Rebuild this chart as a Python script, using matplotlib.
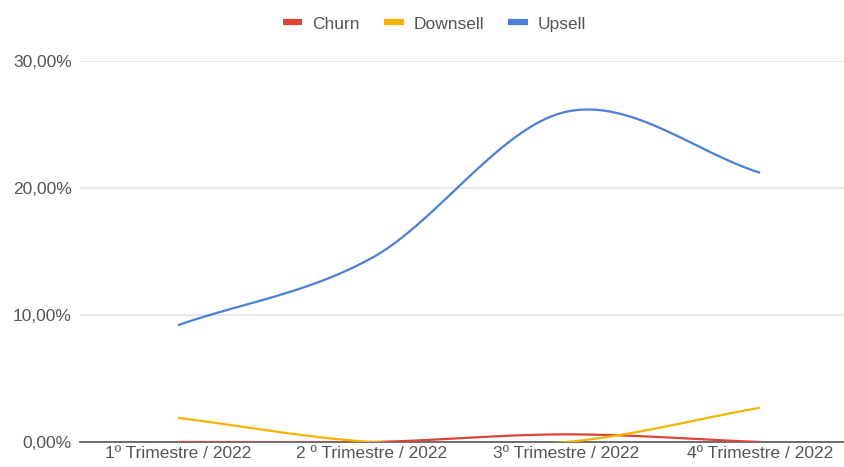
import matplotlib.pyplot as plt
import numpy as np
from matplotlib.ticker import FuncFormatter

plt.rcParams['font.family'] = ['Liberation Sans', 'DejaVu Sans']

quarters = ["1º Trimestre / 2022", "2 º Trimestre / 2022",
            "3º Trimestre / 2022", "4º Trimestre / 2022"]
churn = [0.0, 0.0, 0.6, 0.0]
downsell = [1.9, 0.0, 0.0, 2.7]
upsell = [9.2, 14.5, 26.0, 21.2]


def smooth(y, n=40):
    # catmull-rom style curve through the points, like the sheets "smooth" option
    y = np.asarray(y, dtype=float)
    x = np.arange(len(y))
    m = np.gradient(y)
    xs, ys = [], []
    for i in range(len(y) - 1):
        t = np.linspace(0, 1, n)
        h00 = 2 * t**3 - 3 * t**2 + 1
        h10 = t**3 - 2 * t**2 + t
        h01 = -2 * t**3 + 3 * t**2
        h11 = t**3 - t**2
        xs.append(x[i] + t)
        ys.append(h00 * y[i] + h10 * m[i] + h01 * y[i + 1] + h11 * m[i + 1])
    return np.concatenate(xs), np.concatenate(ys)


fig = plt.figure(figsize=(8.45, 4.67), dpi=100)
ax = fig.add_axes([80 / 845, 25 / 467, 765 / 845, 381 / 467])

series = [("Churn", churn, "#db4437"),
          ("Downsell", downsell, "#f4b400"),
          ("Upsell", upsell, "#4a7fdc")]
for name, vals, col in series:
    xs, ys = smooth(vals)
    ax.plot(xs, ys, color=col, lw=1.6, label=name, solid_capstyle='butt')

ax.set_xlim(-0.505, 3.438)
ax.set_ylim(0, 30)
ax.set_yticks([0, 10, 20, 30])
ax.yaxis.set_major_formatter(FuncFormatter(lambda v, p: f"{v:.2f}%".replace(".", ",")))
ax.set_xticks(range(len(quarters)), quarters)
ax.tick_params(length=0, labelsize=12.5, labelcolor="#555555")
ax.tick_params(axis='x', pad=3)
ax.tick_params(axis='y', pad=6)
ax.grid(axis='y', color="#e3e3e3", lw=1.2)
ax.set_axisbelow(True)
for s in ["top", "right", "left"]:
    ax.spines[s].set_visible(False)
ax.spines["bottom"].set_color("#555555")
ax.spines["bottom"].set_linewidth(1.2)
ax.spines["bottom"].set_zorder(1)

leg = fig.legend(loc="center", bbox_to_anchor=(0.514, 1 - 24 / 467), ncol=3,
                 frameon=False, fontsize=12.5, handlelength=1.15,
                 handletextpad=0.55, columnspacing=1.4)
for line in leg.get_lines():
    line.set_linewidth(4.5)
for t in leg.get_texts():
    t.set_color("#555555")

fig.savefig("out.png", dpi=100)
